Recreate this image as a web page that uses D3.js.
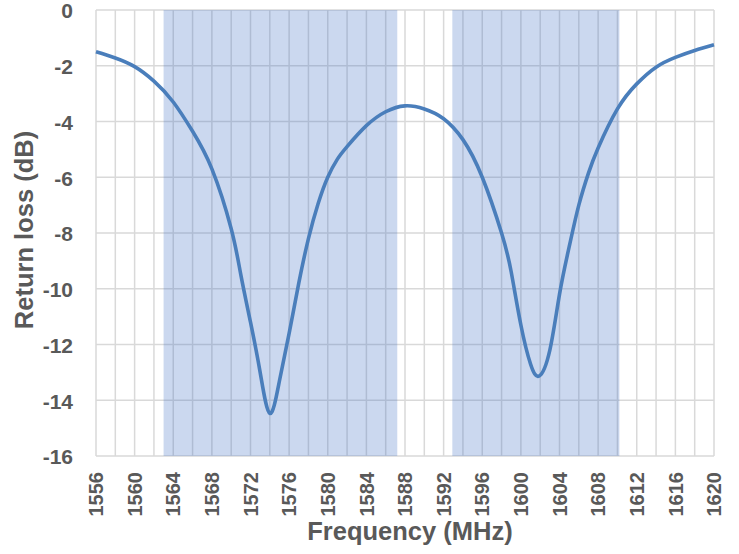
<!DOCTYPE html>
<html>
<head>
<meta charset="utf-8">
<script src="https://cdn.jsdelivr.net/npm/d3@7"></script>
<style>
  body { margin: 0; background: #fff; }
  svg text { font-family: "Liberation Sans", Arial, sans-serif; font-weight: bold; fill: #595959; }
</style>
</head>
<body>
<svg id="chart" width="739" height="554"></svg>
<script>
const freqs = [1556, 1558, 1560, 1562, 1564, 1566, 1568, 1570, 1571, 1572, 1573, 1574, 1575, 1576, 1577, 1578, 1579, 1580, 1581, 1582, 1584, 1586, 1588, 1590, 1592, 1594, 1596, 1598, 1599, 1600, 1601, 1601.9, 1603, 1604, 1605, 1606, 1607, 1608, 1610, 1612, 1614, 1616, 1618, 1620];
const loss = [-1.5, -1.72, -2.03, -2.55, -3.3, -4.35, -5.7, -7.85, -9.5, -11.2, -13.0, -14.47, -13.3, -11.6, -9.8, -8.2, -6.95, -6.0, -5.35, -4.9, -4.15, -3.65, -3.44, -3.55, -3.9, -4.65, -6.0, -8.0, -9.4, -11.3, -12.7, -13.13, -12.2, -10.2, -8.5, -7.0, -5.85, -4.95, -3.55, -2.65, -2.05, -1.7, -1.45, -1.25];

// shaded operating bands (MHz)
const bands = [[1563, 1587.2], [1592.9, 1610.2]];

const xTicks = d3.range(1556, 1621, 4);
const xGrid = d3.range(1556, 1621, 2);
const yTicks = d3.range(0, -17, -2);

const margin = { left: 96, right: 25, top: 10, bottom: 98 };
const width = 739, height = 554;

const svg = d3.select('#chart');

const x = d3.scaleLinear().domain([1556, 1620]).range([margin.left, width - margin.right]);
const y = d3.scaleLinear().domain([-16, 0]).range([height - margin.bottom, margin.top]);

// grid
svg.append('g').selectAll('line').data(xGrid).join('line')
  .attr('x1', d => x(d)).attr('x2', d => x(d))
  .attr('y1', y(0)).attr('y2', y(-16))
  .attr('stroke', '#d9d9d9').attr('stroke-width', 1.5);

svg.append('g').selectAll('line').data(yTicks).join('line')
  .attr('x1', x(1556)).attr('x2', x(1620))
  .attr('y1', d => y(d)).attr('y2', d => y(d))
  .attr('stroke', '#d9d9d9').attr('stroke-width', 1.5);

// bands
svg.append('g').selectAll('rect').data(bands).join('rect')
  .attr('x', d => x(d[0])).attr('width', d => x(d[1]) - x(d[0]))
  .attr('y', y(0)).attr('height', y(-16) - y(0))
  .attr('fill', '#4472c4').attr('fill-opacity', 0.28);

// y tick labels
svg.append('g').selectAll('text').data(yTicks).join('text')
  .attr('x', 73).attr('y', d => y(d))
  .attr('dy', '0.4em').attr('text-anchor', 'end')
  .attr('font-size', 21)
  .text(d => d);

// x tick labels, rotated
svg.append('g').selectAll('text').data(xTicks).join('text')
  .attr('transform', d => `translate(${x(d)},472) rotate(-90)`)
  .attr('dy', '0.36em').attr('text-anchor', 'end')
  .attr('font-size', 20)
  .text(d => d);

// axis titles
svg.append('text')
  .attr('x', 410).attr('y', 540)
  .attr('text-anchor', 'middle').attr('font-size', 25.5)
  .text('Frequency (MHz)');

svg.append('text')
  .attr('transform', 'translate(33,230) rotate(-90)')
  .attr('text-anchor', 'middle').attr('font-size', 25.5)
  .text('Return loss (dB)');

// curve
const line = d3.line()
  .x((d, i) => x(freqs[i]))
  .y(d => y(d))
  .curve(d3.curveNatural);

svg.append('path')
  .datum(loss)
  .attr('d', line)
  .attr('fill', 'none')
  .attr('stroke', '#4a7ebb')
  .attr('stroke-width', 3.6)
  .attr('stroke-linejoin', 'round');
</script>
</body>
</html>
